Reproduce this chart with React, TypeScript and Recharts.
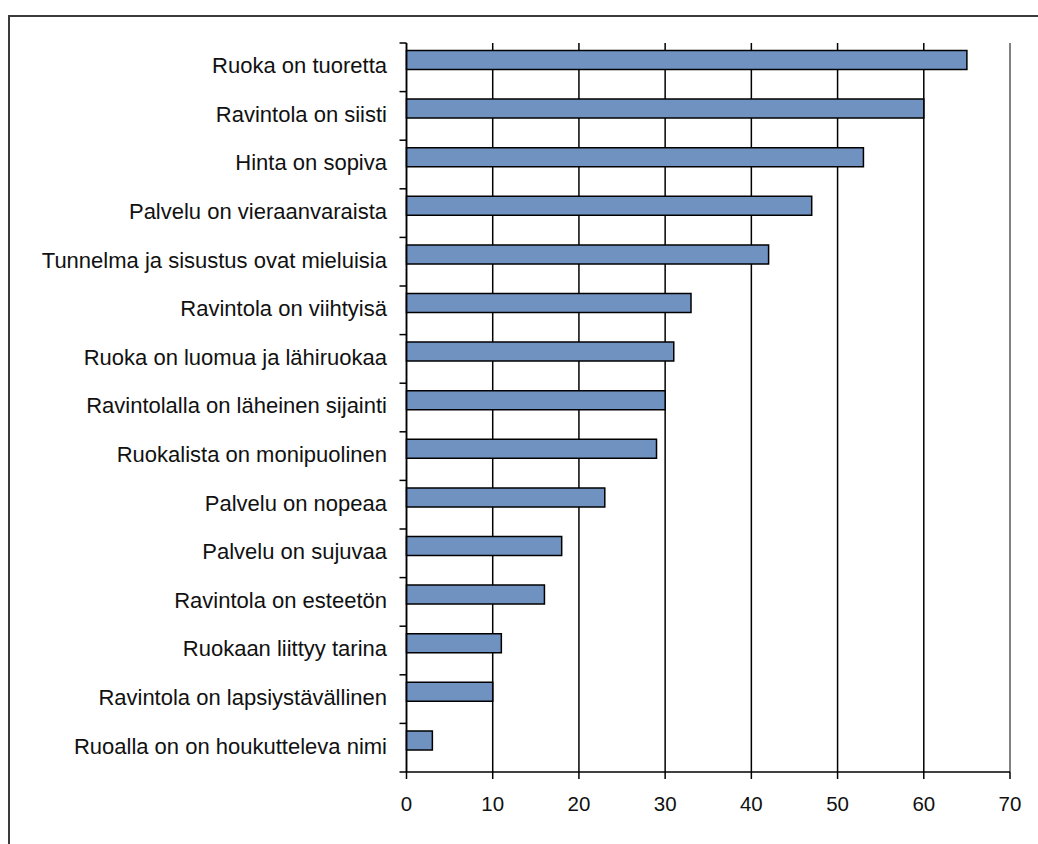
import React from 'react';
import { BarChart, Bar, XAxis, YAxis, CartesianGrid, ReferenceLine, Rectangle } from 'recharts';

const categories = [
  'Ruoka on tuoretta',
  'Ravintola on siisti',
  'Hinta on sopiva',
  'Palvelu on vieraanvaraista',
  'Tunnelma ja sisustus ovat mieluisia',
  'Ravintola on viihtyisä',
  'Ruoka on luomua ja lähiruokaa',
  'Ravintolalla on läheinen sijainti',
  'Ruokalista on monipuolinen',
  'Palvelu on nopeaa',
  'Palvelu on sujuvaa',
  'Ravintola on esteetön',
  'Ruokaan liittyy tarina',
  'Ravintola on lapsiystävällinen',
  'Ruoalla on on houkutteleva nimi',
];
const values = [65, 60, 53, 47, 42, 33, 31, 30, 29, 23, 18, 16, 11, 10, 3];
const xTicks = [0, 10, 20, 30, 40, 50, 60, 70];

const data = categories.map((c, i) => ({ name: c, value: values[i] }));

const W = 1038;
const H = 844;
const PLOT_LEFT = 406.5;
const PLOT_TOP = 43;
const PLOT_BOTTOM = 772;
const PLOT_RIGHT = 1010;
const PLOT_H = PLOT_BOTTOM - PLOT_TOP;
const BAND = PLOT_H / categories.length;
const FONT = '"Liberation Sans", Arial, sans-serif';

const YTick = (props: any) => {
  const { y, payload, index } = props;
  const top = y - BAND / 2;
  const isLast = index === categories.length - 1;
  return (
    <g>
      <line x1={PLOT_LEFT - 7} x2={PLOT_LEFT} y1={top} y2={top} stroke="#000" strokeWidth={1.5} />
      {isLast && (
        <line x1={PLOT_LEFT - 7} x2={PLOT_LEFT} y1={top + BAND} y2={top + BAND} stroke="#000" strokeWidth={1.5} />
      )}
      <text
        x={PLOT_LEFT - 19.5}
        y={y - 2}
        dy="0.355em"
        textAnchor="end"
        fontFamily={FONT}
        fontSize={22}
        fill="#111"
      >
        {payload.value}
      </text>
    </g>
  );
};

const BarShape = (props: any) => <Rectangle {...props} y={props.y - 7.5} />;

export default function App() {
  return (
    <div style={{ position: 'fixed', left: 0, top: 0, width: W, height: H, overflow: 'hidden', background: '#fff' }}>
      <div
        style={{
          position: 'absolute',
          left: 8,
          top: 15,
          width: 1200,
          height: 1000,
          borderLeft: '2px solid #3a3a3a',
          borderTop: '2px solid #3a3a3a',
        }}
      />
      <div style={{ position: 'absolute', left: 0, top: 0 }}>
        <BarChart
          width={W}
          height={H}
          data={data}
          layout="vertical"
          margin={{ top: PLOT_TOP, right: W - PLOT_RIGHT, bottom: H - PLOT_BOTTOM - 40, left: 0.5 }}
          barSize={19}
        >
          <CartesianGrid vertical={true} horizontal={false} stroke="#000" strokeWidth={1.5} xAxisId="b" />
          <XAxis
            xAxisId="t"
            orientation="top"
            type="number"
            domain={[0, 70]}
            ticks={xTicks}
            height={0}
            tick={false}
            tickLine={false}
            axisLine={{ stroke: '#999', strokeWidth: 1.5 }}
          />
          <XAxis
            xAxisId="b"
            type="number"
            domain={[0, 70]}
            ticks={xTicks}
            interval={0}
            height={40}
            axisLine={{ stroke: '#000', strokeWidth: 1.5 }}
            tickLine={{ stroke: '#000', strokeWidth: 1.5 }}
            tickSize={7}
            tickMargin={17}
            tick={{ fontFamily: FONT, fontSize: 20.5, fill: '#111' }}
          />
          <YAxis
            type="category"
            dataKey="name"
            width={406}
            interval={0}
            axisLine={{ stroke: '#000', strokeWidth: 1.5 }}
            tickLine={false}
            tick={<YTick />}
          />
          <ReferenceLine xAxisId="b" x={70} stroke="#999" strokeWidth={1.5} />
          <Bar
            xAxisId="b"
            dataKey="value"
            fill="#7092c0"
            stroke="#000"
            strokeWidth={1.5}
            isAnimationActive={false}
            shape={<BarShape />}
          />
        </BarChart>
      </div>
    </div>
  );
}
